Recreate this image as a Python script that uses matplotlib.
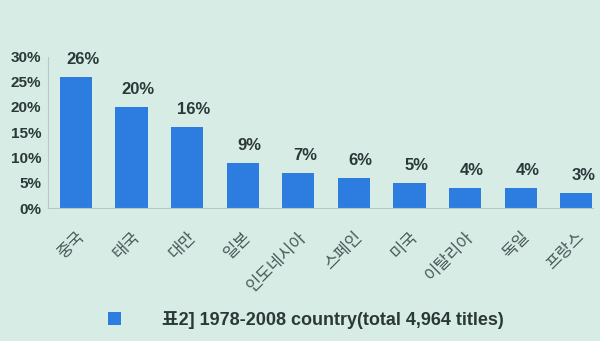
import matplotlib
matplotlib.use("Agg")
import matplotlib.pyplot as plt
import numpy as np

categories = ["중국", "태국", "대만", "일본", "인도네시아", "스페인", "미국", "이탈리아", "독일", "프랑스"]
values = [26, 20, 16, 9, 7, 6, 5, 4, 4, 3]
yticks = [0, 5, 10, 15, 20, 25, 30]
ytick_labels = ["0%", "5%", "10%", "15%", "20%", "25%", "30%"]
legend_label = "표2] 1978-2008 country(total 4,964 titles)"

bg = "#d6ece5"
bar_color = "#2d7ce0"
text_color = "#2b3838"

plt.rcParams['font.family'] = ['Liberation Sans', 'Noto Sans CJK KR', 'DejaVu Sans']

fig = plt.figure(figsize=(6.0, 3.41), dpi=100, facecolor=bg)
ax = fig.add_axes([48/600, 1 - 208/341, (593 - 48)/600, (208 - 56.5)/341])
ax.set_facecolor(bg)

x = np.arange(len(categories))
bars = ax.bar(x, values, width=0.58, color=bar_color, label=legend_label, zorder=2)

for xi, v in zip(x, values):
    ax.annotate(f"{v}%", xy=(xi, v), xytext=(5, 7), textcoords="offset points",
                ha="center", va="bottom", fontsize=12,
                fontweight="bold", color=text_color, annotation_clip=False)

ax.set_xlim(-0.5, 9.3)
ax.set_ylim(0, 30)
ax.set_yticks(yticks)
ax.set_yticklabels(ytick_labels, fontsize=11, fontweight="bold", color=text_color)
ax.tick_params(axis="y", length=0, pad=5)
ax.set_xticks(x)
ax.set_xticklabels(categories, rotation=45, ha="right", va="top", rotation_mode="anchor",
                   fontsize=12, color="#4a5858",
                   family=['Noto Sans CJK KR', 'DejaVu Sans'])
ax.tick_params(axis="x", length=0, pad=15)

for s in ["top", "right"]:
    ax.spines[s].set_visible(False)
ax.spines["left"].set_color("#b8c8c4")
ax.spines["bottom"].set_color("#b8c8c4")
ax.spines["left"].set_linewidth(0.8)
ax.spines["bottom"].set_linewidth(0.8)

leg = fig.legend(handles=[bars], labels=[legend_label], loc="center left",
                 bbox_to_anchor=(92/600, 1 - 320/341), frameon=False,
                 handlelength=0.7, handleheight=0.7, handletextpad=2.3,
                 prop={'family': ['Liberation Sans', 'Noto Sans CJK KR'], 'size': 13, 'weight': 'bold'})
for t in leg.get_texts():
    t.set_color(text_color)

fig.savefig("out.png", dpi=100, facecolor=bg)
